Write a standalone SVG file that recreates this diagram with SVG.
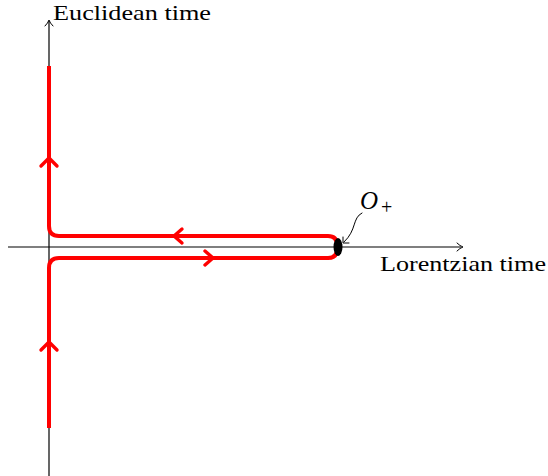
<svg xmlns="http://www.w3.org/2000/svg" width="548" height="476" viewBox="0 0 548 476">
<style>
.axis{stroke:#000;stroke-width:1.2;fill:none}
.head{stroke:#000;stroke-width:1;fill:none;stroke-linecap:round}
.red{stroke:#ff0000;stroke-width:4;fill:none;stroke-linejoin:round}
.chev{stroke:#ff0000;stroke-width:3.4;fill:none;stroke-linecap:round;stroke-linejoin:round}
.lbl{font-family:"Liberation Serif",serif;font-size:22px;fill:#000}
</style>
<g id="axes">
<line class="axis" x1="49" y1="476" x2="49" y2="21"/>
<path class="head" d="M45,26 Q48,23 49,20 Q50,23 53,26"/>
<line class="axis" x1="8" y1="247" x2="461" y2="247"/>
<path class="head" d="M457,243 Q460,246 463,247 Q460,248 457,251"/>
</g>
<g id="contour">
<path class="red" d="M49,66 L49,226 Q49,236 59,236 L328,236 Q337,236 337,245 L337,249 Q337,258 328,258 L59,258 Q49,258 49,268 L49,428"/>
<path class="chev" d="M41,166 L49,158 L57,166"/>
<path class="chev" d="M41,350 L49,342 L57,350"/>
<path class="chev" d="M182,229 L174,236 L182,243"/>
<path class="chev" d="M205,251 L213,258 L205,265"/>
</g>
<g id="point">
<ellipse cx="338" cy="247" rx="4.5" ry="9" fill="#000"/>
<path class="head" d="M362,213 C352,218 357,230 344,242"/>
<path class="head" d="M343,237 L343,243 L349,243"/>
</g>
<g id="labels">
<text class="lbl" x="53" y="20" textLength="158" lengthAdjust="spacingAndGlyphs">Euclidean time</text>
<text class="lbl" x="380" y="271" textLength="166" lengthAdjust="spacingAndGlyphs">Lorentzian time</text>
<text class="lbl" x="360" y="209" style="font-size:25px;font-style:italic">O</text>
<text class="lbl" x="381" y="214" style="font-size:20px">+</text>
</g>
</svg>
